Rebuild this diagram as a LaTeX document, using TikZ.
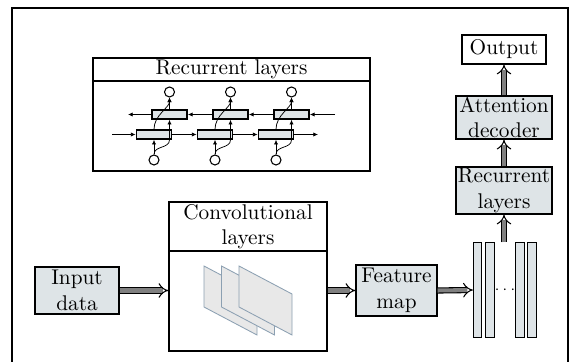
\documentclass[tikz,border=0pt]{standalone}
\usetikzlibrary{arrows.meta}
\definecolor{cellfill}{RGB}{222,228,231}
\definecolor{planefill}{RGB}{232,232,232}
\definecolor{planeedge}{RGB}{140,160,178}
\tikzset{
  box/.style={draw, line width=0.6pt, fill=cellfill, align=center, inner sep=0.5pt},
  plainbox/.style={draw, line width=0.6pt, fill=white, align=center, inner sep=0.5pt},
  cell/.style={draw, line width=0.8pt, fill=cellfill, minimum width=16.5pt, minimum height=4.2pt, inner sep=0pt},
  rnnnode/.style={draw, circle, line width=0.5pt, fill=white, minimum size=4.7pt, inner sep=0pt},
  bar/.style={draw, line width=0.45pt, fill=cellfill, minimum width=3.9pt, minimum height=44.2pt, inner sep=0pt},
  plane/.style={draw=planeedge, line width=0.4pt, fill=planefill},
  thin arrow/.style={line width=0.35pt, -{Latex[length=2.2pt,width=2pt]}},
  fat arrow/.style={line width=0.5pt, double=gray, double distance=1.9pt, -{Implies[scale=1.35]}},
}
\begin{document}
\begin{tikzpicture}[x=0.47pt,y=-0.47pt]
  \clip (0,0) rectangle (574,362);
  \draw[line width=0.6pt] (12,8) rectangle (568,390);
  \node[plainbox, minimum width=130.2pt, minimum height=10.8pt] (rnnhead) at (231.5,69.5) {Recurrent layers};
  \node[plainbox, minimum width=130.2pt, minimum height=42.3pt] (rnnbody) at (231.5,126) {};
  \foreach \i in {1,2,3}{
    \pgfmathsetmacro\dx{61*(\i-1)}
    \node[cell] (f\i) at (154+\dx,134.5) {};
    \node[rnnnode] (x\i) at (154+\dx,160) {};
    \draw[thin arrow] (x\i) -- (f\i);
    \node[cell] (b\i) at (169.5+\dx,114.5) {};
    \node[rnnnode] (y\i) at (169.5+\dx,92) {};
    \draw[thin arrow] (x\i.north) .. controls +(0,-9) and +(0,9) .. (b\i.south |- f\i.south) -- (b\i.south);
    \draw[thin arrow] (b\i) -- (y\i);
    \draw[thin arrow] (f\i.north) .. controls +(0,-14) and +(0,10) .. (y\i.south);
  }
  \coordinate (fin) at (112,134.5);
  \coordinate (fout) at (318,134.5);
  \coordinate (bin) at (335,114.5);
  \coordinate (bout) at (128,114.5);
  \draw[thin arrow] (fin) -- (f1);
  \draw[thin arrow] (f1) -- (f2);
  \draw[thin arrow] (f2) -- (f3);
  \draw[thin arrow] (f3) -- (fout);
  \draw[thin arrow] (bin) -- (b3);
  \draw[thin arrow] (b3) -- (b2);
  \draw[thin arrow] (b2) -- (b1);
  \draw[thin arrow] (b1) -- (bout);
  \node[box, minimum width=39.5pt, minimum height=22.1pt] (input) at (77,290.5) {Input\\data};
  \node[plainbox, minimum width=74.3pt, minimum height=23pt] (convhead) at (248,226.5) {Convolutional\\layers};
  \node[plainbox, minimum width=74.3pt, minimum height=47pt] (convbody) at (248,301) {};
  \draw[plane] (204,266) -- (204,307) -- (257,335) -- (257,294) -- cycle;
  \draw[plane] (221.5,266) -- (221.5,307) -- (274.5,335) -- (274.5,294) -- cycle;
  \draw[plane] (239,266) -- (239,307) -- (292,335) -- (292,294) -- cycle;
  \node[box, minimum width=38.1pt, minimum height=24pt] (feature) at (396.5,290.5) {Feature\\map};
  \node[bar] (bar1) at (477.5,290) {};
  \node[bar] (bar2) at (490,290) {};
  \node[bar] (bar3) at (520,290) {};
  \node[bar] (bar4) at (532,290) {};
  \node[inner sep=0pt] (dots) at (505,290) {\scriptsize$\cdots$};
  \node[box, minimum width=45.1pt, minimum height=22.1pt] (rec) at (504,190.5) {Recurrent\\layers};
  \node[box, minimum width=45.1pt, minimum height=19.3pt] (att) at (504,117.5) {Attention\\decoder};
  \node[plainbox, minimum width=39.5pt, minimum height=13.6pt] (out) at (504,49.5) {Output};
  \draw[fat arrow] (input.east) -- (input.east -| convbody.west);
  \draw[fat arrow] (feature.west -| convbody.east) -- (feature.west);
  \draw[fat arrow] (feature.east) -- (bar1.west);
  \draw[fat arrow] (rec.south |- bar1.north) -- (rec.south);
  \draw[fat arrow] (rec) -- (att);
  \draw[fat arrow] (att) -- (out);
\end{tikzpicture}
\end{document}
